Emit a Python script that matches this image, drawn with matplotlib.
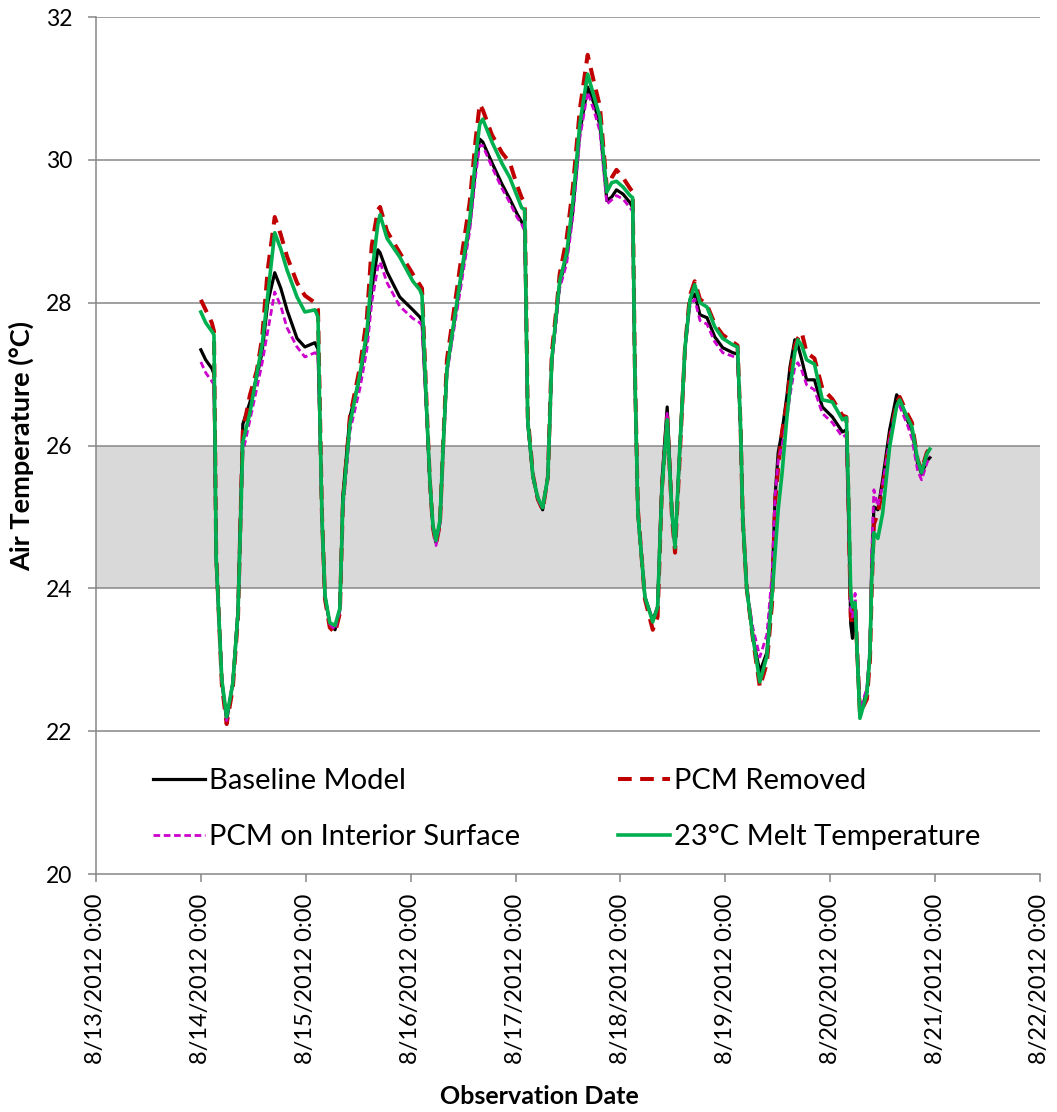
import datetime as dt
import matplotlib
matplotlib.use("Agg")
import matplotlib.pyplot as plt
from matplotlib.ticker import FuncFormatter, FixedLocator
import matplotlib.dates as mdates

plt.rcParams['font.family'] = ['Lato', 'DejaVu Sans']

# Hours after 8/14/2012 0:00
hours = [
    0.0, 1.1, 2.5, 3.0, 3.5, 4.8, 5.9, 7.3, 8.5, 9.6, 11.2, 12.8, 14.0, 15.3, 16.9, 18.3, 19.7, 22.0, 23.8, 26.1, 26.8,
    27.2, 27.7, 28.4, 29.5, 30.7, 31.8, 32.5, 34.1, 36.4, 38.0, 39.1, 40.5, 41.0, 42.6, 45.5, 48.5, 50.1,
    50.6, 51.7, 52.4, 53.1, 53.8, 54.7, 55.4, 56.3, 57.7, 59.3, 61.5, 62.9, 63.8, 64.5, 66.6, 68.9, 70.7, 72.3, 73.4, 74.1,
    74.8, 76.0, 77.1, 78.2, 79.4, 80.3, 81.5, 82.1, 83.7, 85.1, 86.7, 88.5, 89.9, 91.3, 92.9, 94.0, 95.1, 96.6, 98.2, 98.8,
    99.3, 100.0, 101.6, 103.4, 104.5, 105.5, 106.7, 107.8, 108.5, 109.6, 110.8, 111.9, 113.0, 114.2, 115.8, 117.6, 119.4, 121.7, 122.8,
    123.5, 124.0, 124.9, 126.3, 127.9, 129.5, 130.7, 131.4, 132.1, 133.0, 134.1, 134.8, 135.9, 136.6, 137.5, 138.6, 140.4, 142.2, 144.5, 146.8, 147.7,
    148.2, 148.7, 149.1, 149.7, 150.8, 152.4, 153.1, 153.5, 154.0, 154.9, 156.0, 157.6, 159.2, 159.9, 161.6, 162.7, 164.0, 164.9, 166.1, 166.8,
]

baseline = [
    27.34, 27.20, 27.08, 27.00, 24.40, 22.70, 22.15, 22.67, 23.70, 26.30, 26.60, 26.96, 27.30, 28.00, 28.42, 28.20, 27.90, 27.50, 27.38, 27.44, 27.35,
    26.40, 25.00, 23.88, 23.50, 23.42, 23.70, 25.30, 26.40, 26.96, 27.52, 28.18, 28.74, 28.70, 28.43, 28.08, 27.90, 27.80,
    27.75, 26.40, 25.48, 24.86, 24.64, 24.92, 25.94, 27.06, 27.63, 28.26, 29.09, 29.90, 30.29, 30.25, 29.96, 29.66, 29.45, 29.25, 29.13, 29.05,
    26.30, 25.56, 25.25, 25.10, 25.56, 27.20, 27.90, 28.26, 28.65, 29.27, 30.39, 31.02, 30.80, 30.49, 29.43, 29.48, 29.58, 29.52, 29.40, 29.33,
    27.00, 25.05, 23.88, 23.55, 23.74, 25.50, 26.54, 25.05, 24.57, 25.98, 27.38, 28.04, 28.12, 27.83, 27.79, 27.52, 27.37, 27.30, 27.28,
    26.20, 24.96, 24.00, 23.32, 22.83, 23.10, 24.00, 25.30, 25.90, 26.20, 26.70, 27.10, 27.48, 27.40, 27.20, 26.92, 26.92, 26.54, 26.40, 26.19, 26.22,
    25.00, 23.50, 23.30, 23.70, 22.25, 22.55, 23.10, 24.30, 25.14, 25.10, 25.52, 26.22, 26.71, 26.65, 26.36, 26.22, 25.75, 25.60, 25.78, 25.83,
]

pcm_removed = [
    28.04, 27.90, 27.72, 27.60, 24.50, 22.65, 22.10, 22.60, 23.60, 26.20, 26.70, 27.05, 27.50, 28.46, 29.20, 28.95, 28.65, 28.28, 28.10, 28.00, 27.90,
    26.60, 25.05, 23.85, 23.45, 23.38, 23.65, 25.20, 26.40, 27.10, 27.80, 28.80, 29.30, 29.34, 29.00, 28.70, 28.40, 28.25,
    28.20, 26.50, 25.50, 24.85, 24.62, 24.90, 25.95, 27.20, 27.80, 28.50, 29.40, 30.30, 30.78, 30.70, 30.35, 30.10, 29.96, 29.65, 29.47, 29.40,
    26.40, 25.58, 25.25, 25.10, 25.56, 27.30, 28.00, 28.40, 28.90, 29.60, 30.70, 31.47, 31.10, 30.75, 29.60, 29.75, 29.86, 29.75, 29.60, 29.55,
    27.10, 25.10, 23.85, 23.42, 23.60, 25.40, 26.40, 25.00, 24.50, 25.90, 27.40, 28.10, 28.30, 28.05, 27.97, 27.70, 27.55, 27.45, 27.40,
    26.25, 24.96, 24.00, 23.30, 22.62, 22.95, 23.80, 25.20, 25.70, 26.20, 26.60, 27.00, 27.40, 27.50, 27.58, 27.30, 27.22, 26.80, 26.65, 26.42, 26.40,
    25.20, 23.60, 23.50, 23.80, 22.25, 22.45, 23.00, 24.00, 24.90, 25.05, 25.40, 26.10, 26.60, 26.68, 26.45, 26.32, 25.80, 25.66, 25.90, 25.97,
]

pcm_interior = [
    27.17, 27.02, 26.90, 26.85, 24.40, 22.72, 22.15, 22.70, 23.60, 25.90, 26.35, 26.80, 27.15, 27.60, 28.15, 27.95, 27.65, 27.38, 27.24, 27.30, 27.25,
    26.30, 25.00, 23.88, 23.50, 23.42, 23.68, 25.10, 26.20, 26.80, 27.35, 28.00, 28.50, 28.57, 28.28, 27.95, 27.78, 27.72,
    27.68, 26.40, 25.48, 24.86, 24.60, 24.90, 25.90, 27.00, 27.55, 28.15, 29.00, 29.80, 30.20, 30.20, 29.90, 29.60, 29.40, 29.20, 29.10, 29.00,
    26.30, 25.56, 25.25, 25.12, 25.56, 27.15, 27.85, 28.20, 28.55, 29.20, 30.30, 30.95, 30.70, 30.40, 29.38, 29.44, 29.50, 29.45, 29.33, 29.28,
    27.00, 25.05, 23.88, 23.55, 23.74, 25.45, 26.45, 25.05, 24.55, 25.95, 27.35, 27.95, 28.05, 27.75, 27.70, 27.45, 27.30, 27.25, 27.22,
    26.20, 24.96, 24.00, 23.45, 23.04, 23.35, 24.20, 25.30, 25.80, 26.00, 26.40, 26.70, 27.10, 27.16, 27.05, 26.85, 26.78, 26.45, 26.32, 26.12, 26.15,
    25.10, 23.70, 23.60, 23.93, 22.30, 22.60, 23.20, 24.50, 25.38, 25.15, 25.45, 26.10, 26.55, 26.55, 26.30, 26.10, 25.65, 25.52, 25.75, 25.85,
]

melt_23c = [
    27.87, 27.72, 27.60, 27.55, 24.45, 22.72, 22.20, 22.67, 23.65, 26.05, 26.45, 27.00, 27.40, 28.10, 28.98, 28.75, 28.46, 28.08, 27.87, 27.90, 27.80,
    26.50, 25.02, 23.90, 23.52, 23.48, 23.72, 25.20, 26.30, 27.00, 27.60, 28.40, 29.10, 29.23, 28.90, 28.64, 28.30, 28.18,
    28.10, 26.45, 25.50, 24.88, 24.67, 24.95, 25.94, 27.06, 27.65, 28.30, 29.15, 30.05, 30.50, 30.57, 30.25, 29.95, 29.75, 29.50, 29.33, 29.30,
    26.35, 25.56, 25.27, 25.13, 25.56, 27.20, 27.95, 28.30, 28.70, 29.40, 30.50, 31.20, 30.90, 30.60, 29.55, 29.68, 29.70, 29.62, 29.50, 29.47,
    27.05, 25.05, 23.88, 23.53, 23.74, 25.40, 26.36, 25.05, 24.57, 25.98, 27.38, 28.04, 28.25, 28.00, 27.94, 27.66, 27.50, 27.41, 27.38,
    26.25, 24.96, 24.00, 23.32, 22.69, 23.05, 23.90, 24.50, 25.10, 25.62, 26.40, 26.80, 27.30, 27.48, 27.40, 27.20, 27.14, 26.64, 26.61, 26.36, 26.39,
    25.30, 23.93, 23.74, 23.80, 22.18, 22.53, 23.10, 24.12, 24.78, 24.70, 25.05, 25.98, 26.55, 26.64, 26.40, 26.26, 25.80, 25.62, 25.88, 25.95,
]

series_labels = ["Baseline Model", "PCM Removed", "PCM on Interior Surface", "23°C Melt Temperature"]
y_ticks = [20, 22, 24, 26, 28, 30, 32]
comfort_band = (24, 26)

start = dt.datetime(2012, 8, 14)
times = [start + dt.timedelta(hours=h) for h in hours]
tick_dates = [dt.datetime(2012, 8, d) for d in range(13, 23)]

fig = plt.figure(figsize=(10.57, 11.12), dpi=100)
ax = fig.add_axes([0.0908, 0.2140, 0.8931, 0.7707])

grid_gray = "#868686"
ax.axhspan(*comfort_band, color="#D9D9D9", zorder=0, lw=0)
for y in y_ticks[1:]:
    ax.axhline(y, color=grid_gray, lw=1.1, zorder=1)

l_base, = ax.plot(times, baseline, color="black", lw=2.3, zorder=3,
                  solid_joinstyle="round", label=series_labels[0])
l_rem, = ax.plot(times, pcm_removed, color="#C00000", lw=2.9, zorder=4,
                 dashes=(3.4, 2.1), dash_capstyle="butt", label=series_labels[1])
l_int, = ax.plot(times, pcm_interior, color="#CC00CC", lw=2.0, zorder=5,
                 dashes=(2.4, 1.3), label=series_labels[2])
l_melt, = ax.plot(times, melt_23c, color="#00B050", lw=2.6, zorder=6,
                  solid_joinstyle="round", label=series_labels[3])

ax.set_ylim(20, 32)
ax.set_xlim(mdates.date2num(tick_dates[0]), mdates.date2num(tick_dates[-1]))
ax.yaxis.set_major_locator(FixedLocator(y_ticks))
ax.xaxis.set_major_locator(FixedLocator([mdates.date2num(d) for d in tick_dates]))


def date_label(value, pos):
    d = mdates.num2date(value)
    return f"{d.month}/{d.day}/{d.year} {d.hour}:{d.minute:02d}"


ax.xaxis.set_major_formatter(FuncFormatter(date_label))

for side in ("top", "right"):
    ax.spines[side].set_visible(False)
for side in ("left", "bottom"):
    ax.spines[side].set_color(grid_gray)
    ax.spines[side].set_linewidth(1.1)

ax.tick_params(axis="y", direction="out", length=6, width=1.1, color=grid_gray,
               labelsize=16.5, pad=11)
ax.tick_params(axis="x", direction="out", length=6, width=1.1, color=grid_gray,
               labelsize=17, pad=8, labelrotation=90)

ax.set_ylabel("Air Temperature (°C)", fontsize=19.5, fontweight="bold", va="center")
ax.yaxis.set_label_coords(-0.0784, 0.5)
ax.set_xlabel("Observation Date", fontsize=18, fontweight="bold", va="center")
ax.xaxis.set_label_coords(0.47, -0.26)

leg = ax.legend([l_base, l_int, l_rem, l_melt],
                [series_labels[0], series_labels[2], series_labels[1], series_labels[3]],
                ncol=2, frameon=False, fontsize=21, loc="upper left",
                bbox_to_anchor=(0.0603, 0.124), borderaxespad=0, borderpad=0,
                handlelength=1.78, handletextpad=0.15, labelspacing=1.03,
                columnspacing=3.35)

fig.savefig("out.png", dpi=100)
